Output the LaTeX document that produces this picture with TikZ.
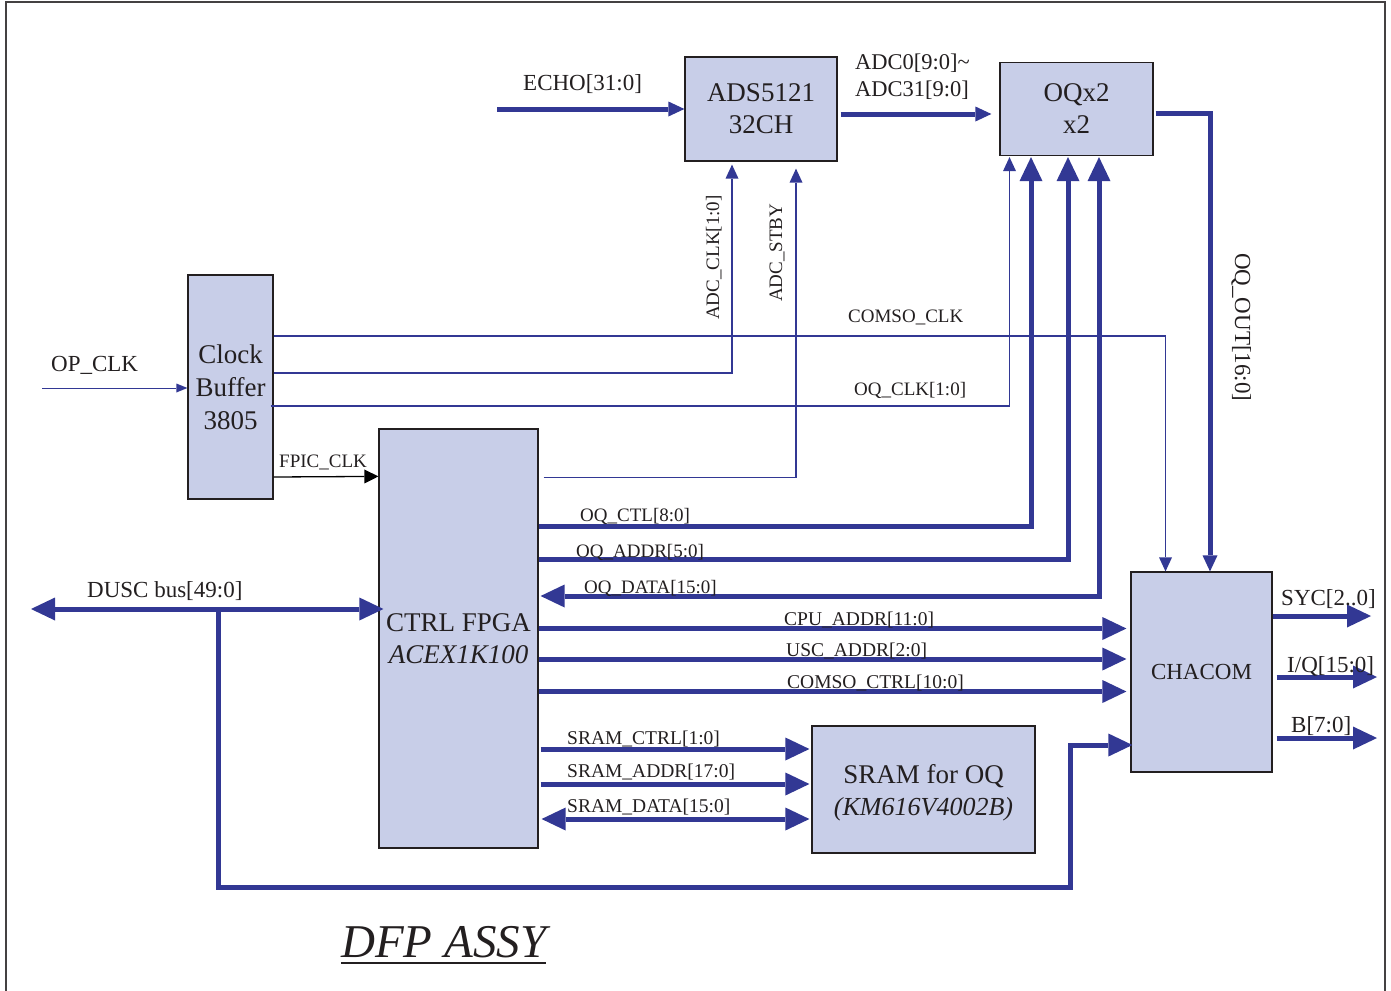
\documentclass[tikz,border=0pt]{standalone}
\usepackage{fontspec}
\setmainfont{Liberation Serif}
\usepackage{xcolor}
\usepackage{tikz}
\usetikzlibrary{arrows.meta, positioning}

\definecolor{busblue}{RGB}{50,56,148}
\definecolor{boxfill}{RGB}{200,206,232}
\definecolor{ink}{RGB}{35,31,32}

\tikzset{
  box/.style={draw=ink, line width=1.2pt, fill=boxfill, inner sep=0pt, align=center,
    text=ink, font=\fontsize{27}{32}\selectfont},
  bus/.style={draw=busblue, line width=5pt},
  wire/.style={draw=busblue, line width=1.3pt},
  sig/.style={inner sep=0pt, text=ink, anchor=base west, font=\fontsize{19}{19}\selectfont},
  port/.style={sig, font=\fontsize{23}{23}\selectfont},
  bigtip/.tip={Triangle[length=24pt, width=23pt, line width=0pt]},
  smalltip/.tip={Triangle[length=16pt, width=15pt, line width=0pt]},
  thintip/.tip={Triangle[length=14pt, width=13pt, line width=0pt]},
}

\begin{document}
\begin{tikzpicture}[x=1pt, y=-1pt, on grid]
        \useasboundingbox (0,0) rectangle (1391,990);
        \draw[ink!85, line width=1.4pt] (6,995) -- (6,2) -- (1385,2) -- (1385,995);

        \node[box, minimum width=152pt, minimum height=104pt] (ads) at (761,109) {ADS5121\\32CH};
        \node[box, minimum width=153pt, minimum height=93pt] (oq) [right=315.5pt of ads] {OQx2\\x2};
        \node[box, minimum width=85pt, minimum height=224pt, font=\fontsize{27}{33}\selectfont] (clk) at (230.5,387) {Clock\\Buffer\\3805};
        \node[box, minimum width=159pt, minimum height=419pt] (fpga) at (458.5,638.5) {CTRL FPGA\\\textit{ACEX1K100}};
        \node[box, minimum width=223pt, minimum height=127pt, text depth=0pt] (sram) at (923.5,789.5) {SRAM for OQ\\{\fontsize{26}{32}\selectfont\itshape (KM616V4002B)}};
        \node[box, minimum width=141pt, minimum height=200pt, font=\fontsize{23}{23}\selectfont] (chacom) at (1201.5,672) {CHACOM};

        \coordinate (echoin) at (497,109);
        \coordinate (opin) at (42,388);
        \coordinate (duscend) at (31,609);
        \coordinate (dusctap) at (218,609);
        \coordinate (duscbot) at (218,887);
        \coordinate (duscup) at (1070,745);
        \coordinate (sycout) at (1371,616);
        \coordinate (iqout) at (1377,677);
        \coordinate (bout) at (1377,738);
        \coordinate (stbyrow) at (0,477.5);
        \coordinate (oqctlrow) at (0,526);
        \coordinate (oqaddrrow) at (0,559);
        \coordinate (oqdatarow) at (0,596);
        \coordinate (cpurow) at (0,628.5);
        \coordinate (uscrow) at (0,659);
        \coordinate (ctrlrow) at (0,691.5);
        \coordinate (sctlrow) at (0,749);
        \coordinate (saddrrow) at (0,784);
        \coordinate (sdatarow) at (0,819);

        \draw[bus, -smalltip] (echoin) -- (ads.west);
        \draw[bus, -smalltip, shorten <=3pt, shorten >=8pt] ([yshift=-5pt]ads.east) -- ([yshift=-5pt]ads.east -| oq.west);
        \draw[bus, -smalltip, shorten <=2pt] ([yshift=-4.5pt]oq.east) -| ([xshift=8.5pt]chacom.north);

        \draw[wire, line width=1pt, -{Triangle[length=11pt, width=9pt, line width=0pt]}] (opin) -- (opin -| clk.west);
        \draw[wire, -thintip] ([yshift=51pt]clk.east) -| ([xshift=-36pt]chacom.north);
        \draw[wire, -thintip, shorten >=3pt] ([yshift=14pt]clk.east) -| ([xshift=-29pt]ads.south);
        \draw[wire, -thintip, shorten >=1pt] ([xshift=-3pt, yshift=-19pt]clk.east) -| ([xshift=-67pt]oq.south);
        \draw[line width=1.3pt, -{Triangle[length=14pt, width=14pt, line width=0pt]}] ([yshift=-90pt]clk.east) -- ([yshift=-48pt]fpga.north west);
        \draw[wire, -thintip, shorten <=5pt, shorten >=7pt] (stbyrow -| fpga.east) -| ([xshift=35pt]ads.south);

        \draw[bus, -bigtip, shorten >=1pt] (oqctlrow -| fpga.east) -| ([xshift=-45.5pt]oq.south);
        \draw[bus, -bigtip, shorten >=1pt] (oqaddrrow -| fpga.east) -| ([xshift=-8.5pt]oq.south);
        \draw[bus, bigtip-bigtip, shorten >=1pt, shorten <=2pt] (oqdatarow -| fpga.east) -| ([xshift=22.5pt]oq.south);
        \draw[bus, -bigtip, shorten >=4pt] (cpurow -| fpga.east) -- (cpurow -| chacom.west);
        \draw[bus, -bigtip, shorten >=4pt] (uscrow -| fpga.east) -- (uscrow -| chacom.west);
        \draw[bus, -bigtip, shorten >=4pt] (ctrlrow -| fpga.east) -- (ctrlrow -| chacom.west);

        \draw[bus, -bigtip, shorten <=2pt, shorten >=2pt] (sctlrow -| fpga.east) -- (sctlrow -| sram.west);
        \draw[bus, -bigtip, shorten <=2pt, shorten >=2pt] (saddrrow -| fpga.east) -- (saddrrow -| sram.west);
        \draw[bus, bigtip-bigtip, shorten <=3pt, shorten >=2pt] (sdatarow -| fpga.east) -- (sdatarow -| sram.west);

        \draw[bus, -bigtip] (sycout -| chacom.east) -- (sycout);
        \draw[bus, -bigtip, shorten <=4pt] (iqout -| chacom.east) -- (iqout);
        \draw[bus, -bigtip, shorten <=4pt] (bout -| chacom.east) -- (bout);

        \draw[bus, bigtip-bigtip, shorten >=-5pt] (duscend) -- (duscend -| fpga.west);
        \draw[bus, -bigtip, shorten >=-2pt] (dusctap) -- (duscbot) -| (duscup) -- (duscup -| chacom.west);

        \node[port] (echolbl) at (523,90) {ECHO[31:0]};
        \node[sig, anchor=north west, align=left, font=\fontsize{22.5}{27}\selectfont] (adclbl) at (855,54) {ADC0[9:0]\textasciitilde\\ADC31[9:0]};
        \node[port, rotate=-90] (oqoutlbl) at (1235,253) {OQ\_OUT[16:0]};
        \node[sig, rotate=90] (adcclklbl) at (719,320) {ADC\_CLK[1:0]};
        \node[sig, rotate=90] (stbylbl) at (782,302) {ADC\_STBY};
        \node[sig] (comsolbl) at (848,322) {COMSO\_CLK};
        \node[sig] (oqclklbl) at (854,395) {OQ\_CLK[1:0]};
        \node[port] (oplbl) at (51,371) {OP\_CLK};
        \node[sig] (fpiclbl) at (279,467) {FPIC\_CLK};
        \node[port] (dusclbl) at (87,597) {DUSC bus[49:0]};
        \node[sig] (oqctllbl) at (580,521) {OQ\_CTL[8:0]};
        \node[sig] (oqaddrlbl) at (576,557) {OQ\_ADDR[5:0]};
        \node[sig] (oqdatalbl) at (584,593) {OQ\_DATA[15:0]};
        \node[sig, font=\fontsize{19.5}{19.5}\selectfont] (cpulbl) at (784,625) {CPU\_ADDR[11:0]};
        \node[sig, font=\fontsize{19.5}{19.5}\selectfont] (usclbl) at (786,656) {USC\_ADDR[2:0]};
        \node[sig, font=\fontsize{19.5}{19.5}\selectfont] (ctrllbl) at (787,688) {COMSO\_CTRL[10:0]};
        \node[port] (syclbl) at (1281,605) {SYC[2..0]};
        \node[port] (iqlbl) at (1287,672) {I/Q[15:0]};
        \node[port] (blbl) at (1291,732) {B[7:0]};
        \node[sig, font=\fontsize{19.5}{19.5}\selectfont] (sctllbl) at (567,744) {SRAM\_CTRL[1:0]};
        \node[sig, font=\fontsize{19.5}{19.5}\selectfont] (saddrlbl) at (567,777) {SRAM\_ADDR[17:0]};
        \node[sig, font=\fontsize{19.5}{19.5}\selectfont] (sdatalbl) at (567,812) {SRAM\_DATA[15:0]};

        \node[inner sep=0pt, anchor=base west, text=ink, font=\fontsize{47}{47}\selectfont\itshape] (title) at (341,957) {DFP ASSY};
        \draw[ink, line width=2.7pt] ([yshift=-6pt]title.base west) -- ([yshift=-6pt]title.base east);
\end{tikzpicture}
\end{document}
